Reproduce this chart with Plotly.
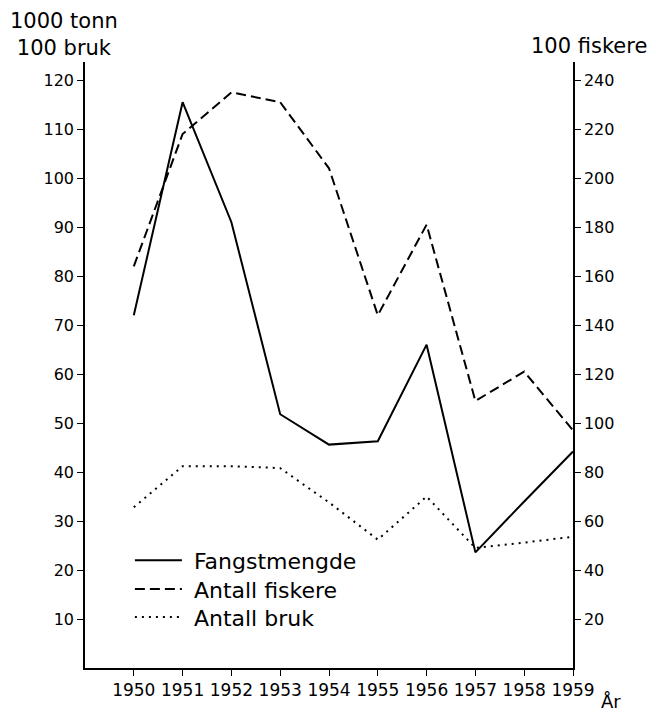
import plotly.graph_objects as go

years = [1950, 1951, 1952, 1953, 1954, 1955, 1956, 1957, 1958, 1959]
fangstmengde = [72, 115.5, 91, 51.8, 45.6, 46.3, 66, 23.6, 34, 44.2]   # 1000 tonn
antall_fiskere = [164, 218, 235, 231, 204, 144, 181, 109, 121, 97]      # 100 fiskere
antall_bruk = [32.8, 41.2, 41.2, 40.8, 33.8, 26.2, 35, 24.5, 25.6, 26.8]  # 100 bruk
series_names = ["Fangstmengde", "Antall fiskere", "Antall bruk"]

left_ticks = [10, 20, 30, 40, 50, 60, 70, 80, 90, 100, 110, 120]
right_ticks = [20, 40, 60, 80, 100, 120, 140, 160, 180, 200, 220, 240]

FONT = "DejaVu Sans"
PAD = "\u00a0"
fig = go.Figure()
fig.add_trace(go.Scatter(x=years, y=fangstmengde, mode="lines", name=PAD + series_names[0],
                         line=dict(color="black", width=2), legend="legend"))
fig.add_trace(go.Scatter(x=years, y=antall_fiskere, mode="lines", name=PAD + series_names[1],
                         line=dict(color="black", width=2, dash="10px,5px"), yaxis="y2",
                         legend="legend2"))
fig.add_trace(go.Scatter(x=years, y=antall_bruk, mode="lines", name=PAD + series_names[2],
                         line=dict(color="black", width=2, dash="2px,5px"), legend="legend3"))

def leg(y):
    return dict(x=0.092, y=y, xanchor="left", yanchor="middle", bgcolor="rgba(0,0,0,0)",
                font=dict(size=22, family=FONT), itemwidth=47)

yt = dict(size=16, family=FONT)
xt = dict(size=17, family=FONT)
fig.update_layout(
    width=648, height=704,
    margin=dict(l=77, r=83, t=54, b=42),
    paper_bgcolor="white", plot_bgcolor="white",
    font=dict(family=FONT, color="black", size=17),
    showlegend=True,
    legend=leg(0.1776), legend2=leg(0.130), legend3=leg(0.0839),
    xaxis=dict(range=[1949, 1959], tickvals=years, ticktext=[str(y) for y in years],
               showgrid=False, zeroline=False, showline=True, linecolor="black", linewidth=1.5,
               ticks="outside", ticklen=6, tickcolor="black", tickfont=xt),
    yaxis=dict(range=[0, 123.7], tickvals=left_ticks, showgrid=False, zeroline=False,
               showline=True, linecolor="black", linewidth=1.5, ticks="outside", ticklen=6,
               tickcolor="black", tickfont=yt),
    yaxis2=dict(range=[0, 247.4], tickvals=right_ticks, overlaying="y", side="right", anchor="x",
                showgrid=False, zeroline=False, showline=True, linecolor="black", linewidth=1.5,
                ticks="outside", ticklen=6, tickcolor="black", tickfont=yt),
    annotations=[
        dict(text="1000 tonn<br>100 bruk", xref="paper", yref="paper", x=-0.043, y=1.0,
             xanchor="center", yanchor="bottom", showarrow=False, align="center",
             font=dict(size=21, family=FONT)),
        dict(text="100 fiskere", xref="paper", yref="paper", x=1.033, y=1.003,
             xanchor="center", yanchor="bottom", showarrow=False, font=dict(size=21, family=FONT)),
        dict(text="År", xref="paper", yref="paper", x=1.078, y=-0.055,
             xanchor="center", yanchor="middle", showarrow=False, font=dict(size=18, family=FONT)),
    ],
)
fig.write_html("out.html")
